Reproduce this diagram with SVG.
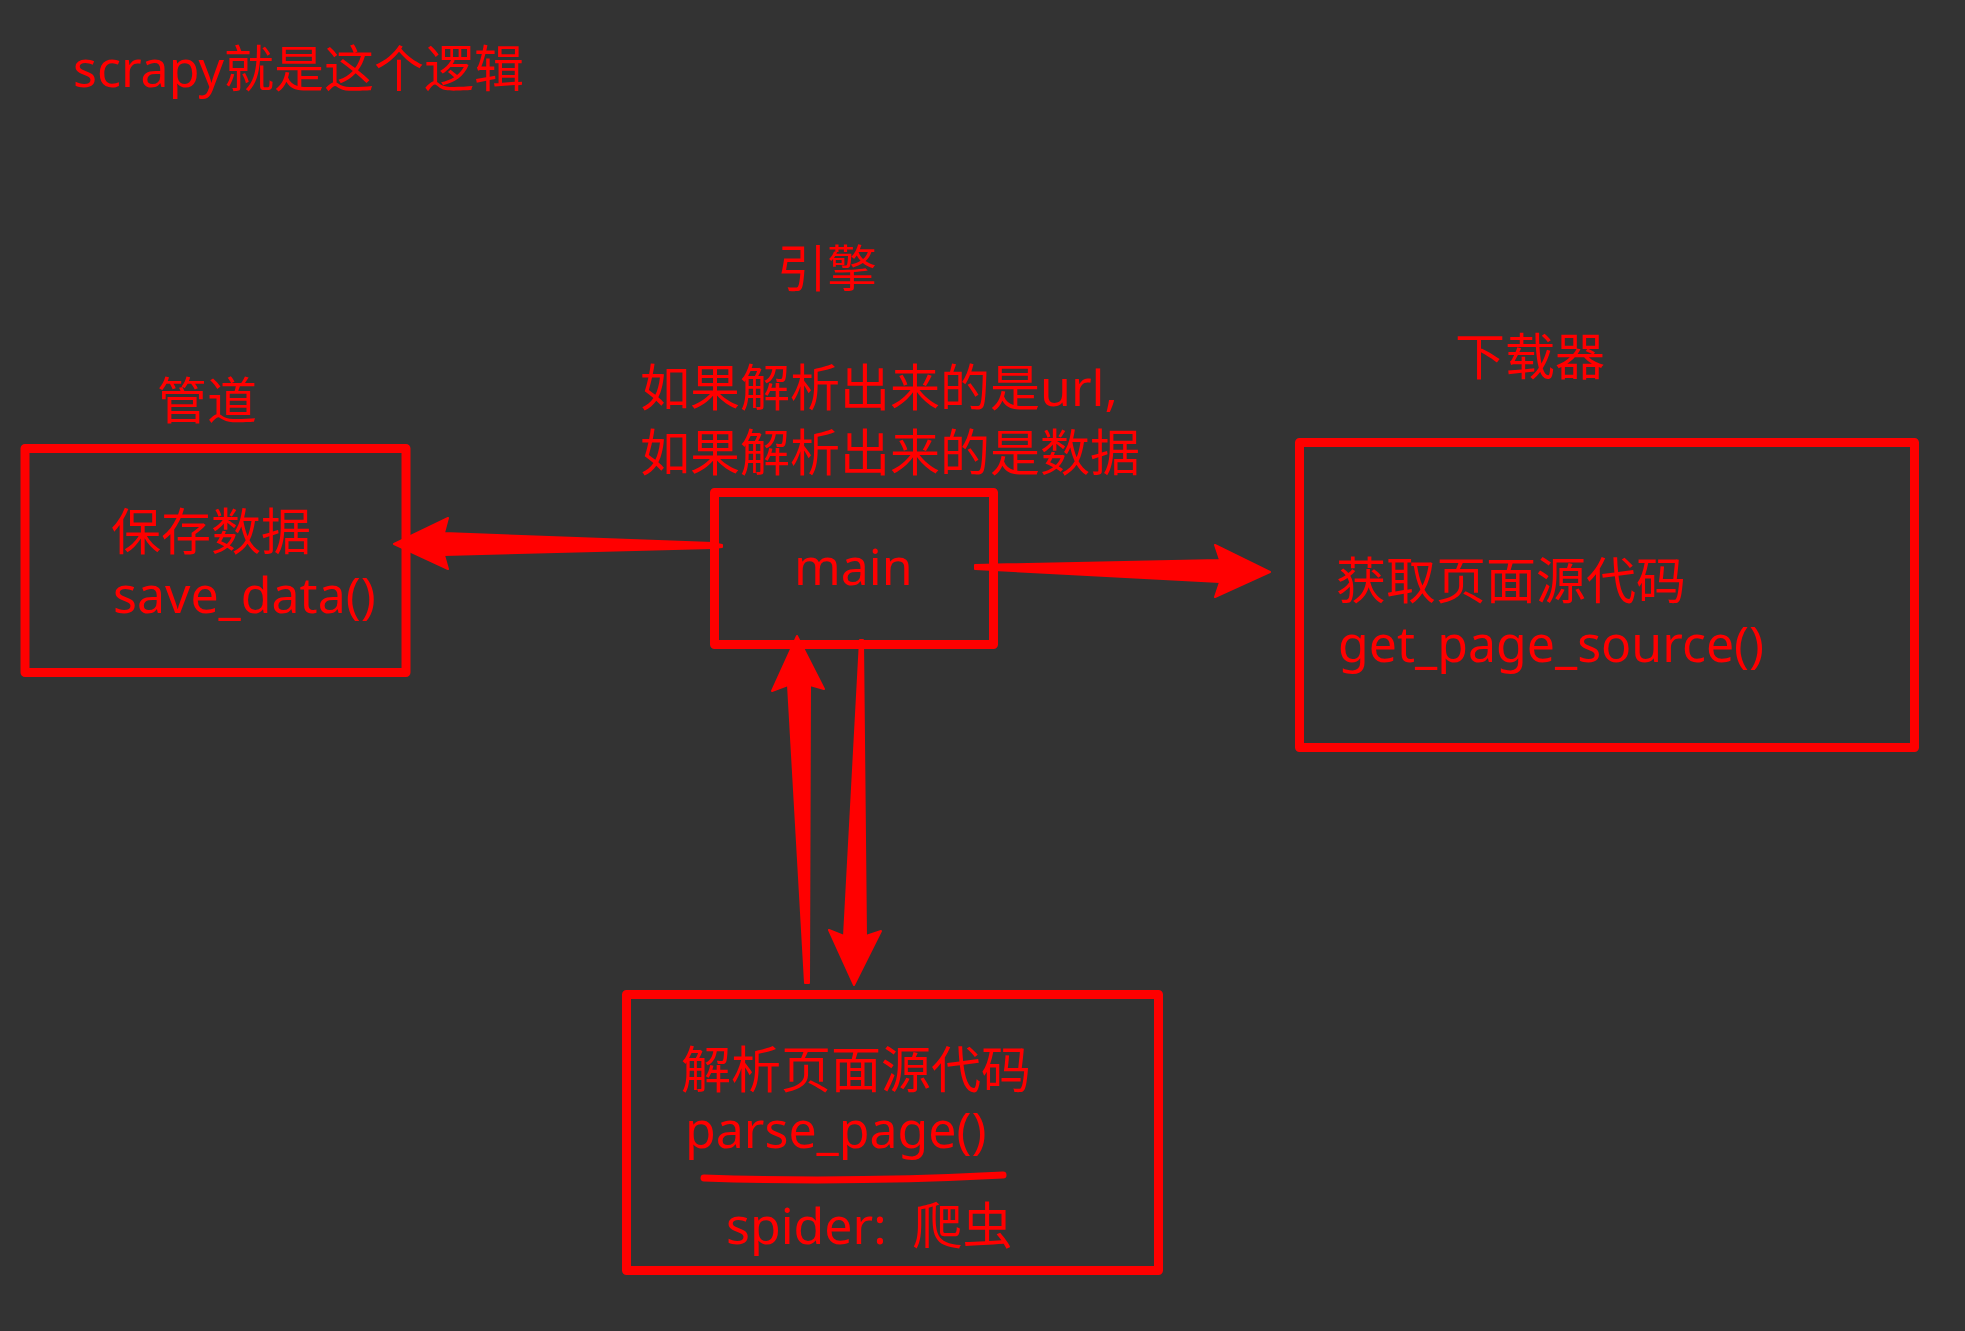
<svg xmlns="http://www.w3.org/2000/svg" width="1965" height="1331" viewBox="0 0 1965 1331">
<style>
.t{font-family:"Noto Sans","Noto Sans CJK SC",sans-serif;font-size:50px;fill:#ff0000}
.box{fill:none;stroke:#ff0000;stroke-width:9;stroke-linejoin:round}
.arr{fill:#ff0000;stroke:#ff0000;stroke-width:2;stroke-linejoin:round}
</style>
<rect width="1965" height="1331" fill="#333333"/>
<text class="t" x="73" y="87">scrapy就是这个逻辑</text>
<text class="t" x="777" y="287">引擎</text>
<g id="pipeline">
<text class="t" x="157" y="419">管道</text>
<rect class="box" x="25" y="448.5" width="381" height="224"/>
<text class="t" x="111" y="550">保存数据</text>
<text class="t" x="113" y="613">save_data()</text>
</g>
<g id="engine">
<text class="t" x="640" y="406">如果解析出来的是url,</text>
<text class="t" x="640" y="471">如果解析出来的是数据</text>
<rect class="box" x="714.5" y="492.5" width="279" height="152"/>
<text class="t" x="794" y="585">main</text>
</g>
<g id="downloader">
<text class="t" x="1455" y="375">下载器</text>
<rect class="box" x="1299.5" y="442.5" width="615" height="305"/>
<text class="t" x="1336" y="599">获取页面源代码</text>
<text class="t" x="1338" y="662">get_page_source()</text>
</g>
<g id="spider">
<rect class="box" x="626.5" y="994.5" width="532" height="276"/>
<text class="t" x="681" y="1088">解析页面源代码</text>
<text class="t" x="685" y="1148">parse_page()</text>
<path d="M704,1178 Q850,1183 1003,1175" fill="none" stroke="#ff0000" stroke-width="7" stroke-linecap="round"/>
<text class="t" x="726" y="1244">spider:&#160;&#160;爬虫</text>
</g>
<g id="connectors">
<polygon class="arr" points="975,565 1220,560 1215,545 1270,572 1215,597 1220,582 975,569"/>
<polygon class="arr" points="722,545 713,543 444,533 448,518 394,544 448,569 444,555 713,548 722,547"/>
<polygon class="arr" points="797,636 824,689 810,685 809,983 805,983 788,685 772,691"/>
<polygon class="arr" points="860,640 863,640 866,936 881,931 854,985 829,930 844,936"/>
</g>
</svg>
